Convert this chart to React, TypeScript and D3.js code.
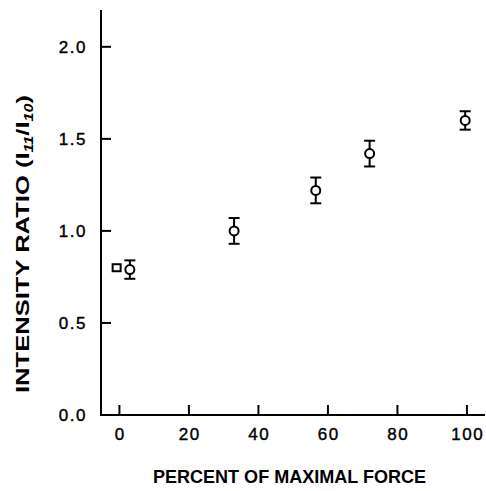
import React from "react";
import * as d3 from "d3";

const forcePercent = [3, 33, 56.5, 72, 99.5];
const intensityRatio = [0.79, 1.0, 1.22, 1.42, 1.6];
const ratioError = [0.05, 0.07, 0.07, 0.07, 0.05];
const restX = [-0.8];
const restY = [0.8];
const xTicks = [0, 20, 40, 60, 80, 100];
const yTicks = [0, 0.5, 1.0, 1.5, 2.0];

const W = 486;
const H = 491;

export default function App() {
  const x = d3.scaleLinear().domain([-5.3, 105.2]).range([101, 485]);
  const y = d3.scaleLinear().domain([0, 2.2]).range([415, 10]);
  const font = "'Liberation Sans', Arial, sans-serif";
  const x0 = x.range()[0];
  const y0 = y.range()[0];
  const capW = 5.5;
  return (
    <svg width={W} height={H} style={{ position: "absolute", left: 0, top: 0, background: "#fff" }}>
      <g stroke="#000" strokeWidth={2} fill="none">
        <line x1={x0} x2={x0} y1={y.range()[1]} y2={y0 + 1} />
        <line x1={x0} x2={x.range()[1]} y1={y0} y2={y0} />
        {xTicks.map((t) => (
          <line key={"xt" + t} x1={x(t)} x2={x(t)} y1={y0} y2={y0 - 10} />
        ))}
        {yTicks.map((t) => (
          <line key={"yt" + t} x1={x0} x2={x0 + 10} y1={y(t)} y2={y(t)} />
        ))}
      </g>
      <g fontFamily={font} fontSize={17} fill="#000" letterSpacing={1.5} stroke="#000" strokeWidth={0.4}>
        {xTicks.map((t) => (
          <text key={"xl" + t} x={x(t) + 0.75} y={440} textAnchor="middle">
            {d3.format("d")(t)}
          </text>
        ))}
        {yTicks.map((t) => (
          <text key={"yl" + t} x={87} y={y(t) + 6} textAnchor="end">
            {d3.format(".1f")(t)}
          </text>
        ))}
      </g>
      <text
        x={(153 + 426) / 2}
        y={483}
        textAnchor="middle"
        fontFamily={font}
        fontWeight="bold"
        fontSize={19}
        textLength={273}
        lengthAdjust="spacingAndGlyphs"
      >
        PERCENT OF MAXIMAL FORCE
      </text>
      <text
        transform={`translate(28.5,244) rotate(-90)`}
        textAnchor="middle"
        fontFamily={font}
        fontWeight="bold"
        fontSize={19}
        textLength={298}
        lengthAdjust="spacingAndGlyphs"
      >
        <tspan>INTENSITY RATIO (I</tspan>
        <tspan fontSize={12} fontStyle="italic" dy={4}>11</tspan>
        <tspan dy={-4}>/I</tspan>
        <tspan fontSize={12} fontStyle="italic" dy={4}>10</tspan>
        <tspan dy={-4}>)</tspan>
      </text>
      <g stroke="#000" strokeWidth={2} fill="#fff">
        {forcePercent.map((f, i) => {
          const cx = x(f);
          const top = y(intensityRatio[i] + ratioError[i]);
          const bot = y(intensityRatio[i] - ratioError[i]);
          return (
            <g key={"p" + i}>
              <line x1={cx} x2={cx} y1={top} y2={bot} />
              <line x1={cx - capW} x2={cx + capW} y1={top} y2={top} />
              <line x1={cx - capW} x2={cx + capW} y1={bot} y2={bot} />
              <circle cx={cx} cy={y(intensityRatio[i])} r={4.5} />
            </g>
          );
        })}
        {restX.map((f, i) => (
          <rect key={"s" + i} x={x(f) - 4} y={y(restY[i]) - 3.5} width={8} height={7} />
        ))}
      </g>
    </svg>
  );
}
